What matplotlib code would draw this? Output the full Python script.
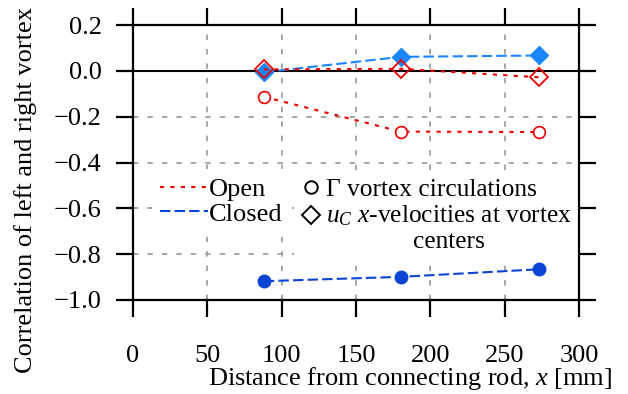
import matplotlib
matplotlib.use("Agg")
import matplotlib.pyplot as plt
from matplotlib.lines import Line2D
from matplotlib.legend_handler import HandlerLine2D
from matplotlib.ticker import FuncFormatter

# streamwise stations of the measurement planes [mm]
x_pos = [88, 180, 273]

# correlation of left/right vortex, circulation
open_circ = [-0.113, -0.265, -0.267]
closed_circ = [-0.918, -0.899, -0.866]

# correlation of left/right vortex, x-velocity at vortex centre
open_diam = [0.006, 0.009, -0.028]
closed_diam = [-0.006, 0.061, 0.067]

x_ticks = [0, 50, 100, 150, 200, 250, 300]
y_ticks = [-1.0, -0.8, -0.6, -0.4, -0.2, 0.0, 0.2]

RED = "#ee0000"
BLUE_DARK = "#0a44d4"
BLUE_LIGHT = "#1a86ff"
DOT = (0, (2, 3))
DASH = (0, (5, 2))

plt.rcParams["font.family"] = ["Liberation Serif", "DejaVu Serif"]
plt.rcParams["mathtext.fontset"] = "custom"
plt.rcParams["mathtext.rm"] = "Liberation Serif"
plt.rcParams["mathtext.it"] = "Liberation Serif:italic"
plt.rcParams["font.size"] = 19


class RaisedHandler(HandlerLine2D):
    """Put the marker on the first line of a two-line legend label."""
    def __init__(self, shift, **kw):
        super().__init__(**kw)
        self.shift = shift

    def create_artists(self, legend, orig_handle, xdescent, ydescent,
                       width, height, fontsize, trans):
        return super().create_artists(legend, orig_handle, xdescent,
                                      ydescent - 2 * self.shift, width, height,
                                      fontsize, trans)


fig = plt.figure(figsize=(6.28, 3.94), dpi=100)
ax = fig.add_axes([0.2118, 0.2386, 0.7102, 0.6979])

ax.set_xlim(0, 300)
ax.set_ylim(-1.0, 0.2)
ax.set_xticks(x_ticks)
ax.set_yticks(y_ticks)
ax.yaxis.set_major_formatter(FuncFormatter(lambda v, p: f"{v:.1f}".replace("-", "\u2212")))

ax.grid(True, color="#a0a0a0", linestyle=(0, (3, 5)), linewidth=1.3)
ax.set_axisbelow(True)
ax.axhline(0, color="black", linewidth=1.5, zorder=1.5)

for s in ax.spines.values():
    s.set_linewidth(1.6)
    s.set_zorder(6)
ax.tick_params(direction="out", top=True, right=True, length=12.5, width=1.6)
ax.tick_params(axis="y", pad=10)
ax.tick_params(axis="x", pad=20)

# circulation correlations
ax.plot(x_pos, open_circ, linestyle=DOT, color=RED, lw=1.5, marker="o",
        ms=8.5, mfc="white", mec=RED, mew=1.2, zorder=3)
ax.plot(x_pos, closed_circ, linestyle=DASH, color=BLUE_DARK, lw=1.5, marker="o",
        ms=9, mfc=BLUE_DARK, mec=BLUE_DARK, zorder=3)

# x-velocity correlations
ax.plot(x_pos, closed_diam, linestyle=DASH, color=BLUE_LIGHT, lw=1.5, marker="D",
        ms=9.5, mfc=BLUE_LIGHT, mec=BLUE_LIGHT, zorder=3)
ax.plot(x_pos, open_diam, linestyle=DOT, color=RED, lw=1.5, marker="D",
        ms=8.8, mfc="none", mec=RED, mew=1.3, zorder=4)

ax.set_ylabel("Correlation of left and right vortex")
ax.yaxis.set_label_coords(-0.215, 0.40)
ax.set_xlabel("Distance from connecting rod, $x$ [mm]", ha="right")
ax.xaxis.set_label_coords(1.074, -0.237)

# legend: configurations (line styles)
h_cfg = [Line2D([], [], color=RED, linestyle=DOT, lw=1.5),
         Line2D([], [], color=BLUE_DARK, linestyle=DASH, lw=1.5)]
leg1 = ax.legend(h_cfg, ["Open", "Closed"], loc="upper left",
                 bbox_to_anchor=(0.042, 0.475), handlelength=1.85, handletextpad=0.0,
                 labelspacing=0.05, borderpad=0.3, borderaxespad=0, frameon=True,
                 fancybox=False, facecolor="white", edgecolor="none", framealpha=1)
ax.add_artist(leg1)

# legend: quantities (markers)
h_circ = Line2D([], [], linestyle="none", marker="o", ms=9, mfc="none", mec="black", mew=1.4)
h_diam = Line2D([], [], linestyle="none", marker="D", ms=9, mfc="none", mec="black", mew=1.4)
leg2 = ax.legend([h_circ, h_diam], ["\u0393 vortex circulations",
                                    "$u_C$ $x$-velocities at vortex\ncenters"],
                 loc="upper left", bbox_to_anchor=(0.361, 0.472), handlelength=0.7,
                 handletextpad=0.25, labelspacing=0.1, borderpad=0.3, borderaxespad=0,
                 fontsize=18.3, frameon=True, fancybox=False, facecolor="white",
                 edgecolor="none", framealpha=1,
                 handler_map={h_diam: RaisedHandler(shift=9)})
leg2.get_texts()[1].set_multialignment("center")
leg2.get_frame().set_clip_box(ax.bbox)
leg2.get_frame().set_clip_on(True)

fig.savefig("out.png", dpi=100)
